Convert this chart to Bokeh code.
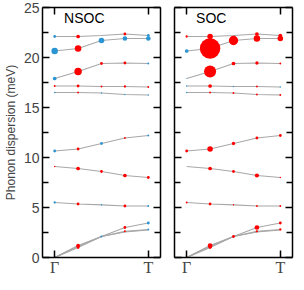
from bokeh.plotting import figure
from bokeh.layouts import row
from bokeh.models import ColumnDataSource, FixedTicker, LinearAxis, Label, Range1d
from bokeh.embed import file_html
from bokeh.resources import INLINE

# q-path positions (Gamma -> T)
q = [0.0, 0.25, 0.5, 0.75, 1.0]
q_ticks = [0.0, 1.0]
q_labels = ["Γ", "T"]
y_ticks = [0, 5, 10, 15, 20, 25]
y_minor = [2.5, 7.5, 12.5, 17.5, 22.5]

# phonon bands (meV)
b1 = [22.1, 22.1, 22.2, 22.35, 22.2]
b2 = [20.65, 20.9, 21.7, 21.9, 21.9]
b3 = [17.9, 18.6, 19.4, 19.45, 19.4]
b4 = [17.15, 17.15, 17.1, 17.1, 17.05]
b5 = [16.5, 16.5, 16.45, 16.3, 16.25]
b6 = [10.65, 10.85, 11.4, 11.95, 12.2]
b7 = [9.1, 8.9, 8.6, 8.2, 8.0]
b8 = [5.5, 5.35, 5.27, 5.15, 5.15]
a1 = [0.0, 1.2, 2.1, 3.0, 3.45]
a2 = [0.0, 1.1, 2.1, 2.62, 2.8]
a3 = [0.0, 1.0, 2.1, 2.55, 2.75]
bands = [b1, b2, b3, b4, b5, b6, b7, b8, a1, a2, a3]

# NSOC weights (dot diameter) and character (1 = red, 0 = blue)
nsoc_w = [
    [3, 4, 0, 3, 3],
    [7, 7, 6, 5, 5],
    [4, 8, 3, 3, 2],
    [2, 3, 2, 2.5, 2],
    [1.5, 2, 1.5, 1.5, 1.5],
    [3, 3, 3, 2, 2],
    [1.5, 4, 3, 4, 3],
    [2.5, 3, 1.5, 3, 2],
    [0, 4, 2, 3, 3],
    [0, 3, 0, 2, 2],
    [0, 3, 0, 0, 0],
]
nsoc_c = [
    [0, 1, 1, 1, 0],
    [0, 1, 0, 0, 0],
    [0, 1, 1, 1, 0],
    [1, 1, 1, 1, 1],
    [0, 1, 0, 0, 0],
    [0, 1, 0, 1, 0],
    [1, 1, 1, 1, 1],
    [0, 1, 0, 1, 0],
    [0, 1, 0, 1, 0],
    [0, 1, 0, 1, 0],
    [0, 1, 0, 1, 0],
]
# SOC weights and character
soc_w = [
    [2.5, 6, 0, 4, 4],
    [4, 22, 10, 7, 6],
    [1, 13, 4, 3.5, 2],
    [1.5, 4, 1.5, 2, 1.5],
    [1.5, 2, 2, 2, 2],
    [3, 6, 3.5, 3, 3],
    [0, 4, 3, 4.5, 1.5],
    [2, 3, 1.5, 2, 2],
    [0, 5, 3, 5, 3],
    [0, 4, 0, 2.5, 2.5],
    [0, 3, 0, 0, 0],
]
soc_c = [
    [1, 1, 1, 1, 1],
    [0, 1, 1, 1, 1],
    [0, 1, 1, 1, 1],
    [0, 1, 0, 1, 0],
    [0, 1, 1, 1, 1],
    [1, 1, 1, 1, 1],
    [1, 1, 1, 1, 1],
    [1, 1, 1, 1, 1],
    [1, 1, 1, 1, 1],
    [1, 1, 1, 1, 1],
    [1, 1, 1, 1, 1],
]

RED = "#ff0000"
BLUE = "#2b95d3"
FONT = "Liberation Sans"
SCALE = 0.93


def style_axis(ax, ticks, labels):
    ax.axis_line_width = 1.5
    ax.axis_line_color = "black"
    ax.major_tick_in = 7
    ax.major_tick_out = 0
    ax.minor_tick_in = 6
    ax.minor_tick_out = 0
    ax.major_tick_line_width = 1.5
    ax.minor_tick_line_width = 1.5
    if not labels:
        ax.major_label_overrides = {t: "" for t in ticks}
        ax.major_label_standoff = 0


def make_panel(title, weights, chars, left):
    p = figure(frame_width=118, frame_height=250, output_backend="svg",
               toolbar_location=None, x_axis_location=None, y_axis_location=None,
               x_range=Range1d(-0.13, 1.13), y_range=Range1d(0, 25),
               min_border_top=7, min_border_bottom=0,
               min_border_left=0 if left else 7,
               min_border_right=7 if left else 2)
    p.outline_line_color = None
    p.grid.visible = False
    p.background_fill_color = "white"

    # axes
    yl = LinearAxis(ticker=FixedTicker(ticks=y_ticks, minor_ticks=y_minor))
    style_axis(yl, y_ticks, left)
    if left:
        yl.axis_label = "Phonon dispersion (meV)"
        yl.axis_label_text_font = FONT
        yl.axis_label_text_font_size = "12px"
        yl.axis_label_text_font_style = "normal"
        yl.axis_label_standoff = 3
        yl.major_label_text_font = FONT
        yl.major_label_text_font_size = "14px"
        yl.major_label_standoff = 3
    p.add_layout(yl, "left")
    yr = LinearAxis(ticker=FixedTicker(ticks=y_ticks, minor_ticks=y_minor))
    style_axis(yr, y_ticks, False)
    p.add_layout(yr, "right")
    xb = LinearAxis(ticker=FixedTicker(ticks=q_ticks, minor_ticks=[]),
                    major_label_overrides={t: l for t, l in zip(q_ticks, q_labels)})
    style_axis(xb, q_ticks, True)
    xb.major_label_text_font = "Liberation Serif"
    xb.major_label_text_font_size = "16px"
    xb.major_label_standoff = 1
    p.add_layout(xb, "below")
    xt = LinearAxis(ticker=FixedTicker(ticks=q_ticks, minor_ticks=[]))
    style_axis(xt, q_ticks, False)
    p.add_layout(xt, "above")

    # band lines
    for b in bands:
        p.line(q, b, line_color="#a8a8a8", line_width=1.2)

    xs, ys, sz, cl = [], [], [], []
    for b, w, c in zip(bands, weights, chars):
        for qi, e, wi, ci in zip(q, b, w, c):
            if wi > 0:
                xs.append(qi)
                ys.append(e)
                sz.append(wi * SCALE)
                cl.append(RED if ci else BLUE)
    src = ColumnDataSource(dict(x=xs, y=ys, s=sz, c=cl))
    p.scatter("x", "y", size="s", fill_color="c", line_color=None, source=src)

    p.add_layout(Label(x=0.1, y=24.8, text=title, text_baseline="top",
                       text_font=FONT, text_font_size="14px", text_color="black"))
    return p


p1 = make_panel("NSOC", nsoc_w, nsoc_c, True)
p2 = make_panel("SOC", soc_w, soc_c, False)
p = row(p1, p2)

open("out.html", "w").write(file_html(p, INLINE))
